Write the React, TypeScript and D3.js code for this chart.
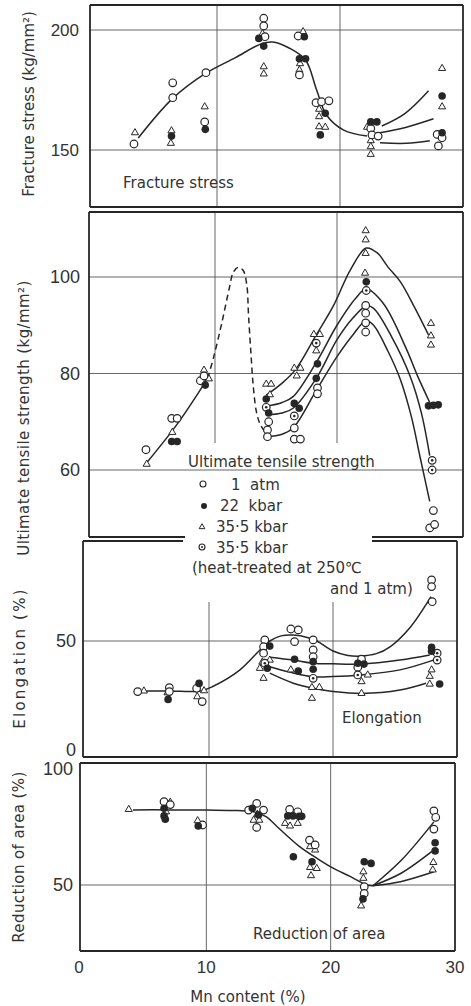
import React from "react";
import * as d3 from "d3";

// ---------- DATA (x = Mn content %, y = property value) ----------
const xTicks = [0, 10, 20, 30];
const fsTicks = [150, 200];
const utsTicks = [60, 80, 100];
const elTicks = [0, 50];
const raTicks = [50, 100];

// Fracture stress (kg/mm²)
const fsOpen = [[3.25,152.5],[6.4,178],[6.4,171.8],[9.1,182.2],[9.0,161.7],[13.8,204.9],[13.8,201.7],[13.9,197.2],[16.6,197.5],[16.7,181.3],[18.05,169.7],[18.5,170.1],[19.1,170.5],[22.5,159],[22.6,156.3],[23.1,155.8],[27.9,156.5],[28.3,155.1],[28.0,151.7]];
const fsFilled = [[6.3,155.8],[9.05,158.6],[13.4,196.5],[13.8,193.3],[17.1,197.2],[16.7,188],[17.2,188],[18.8,165.3],[18.4,156.3],[22.5,161.7],[23.0,161.7],[28.3,172.5],[28.3,157.2]];
const fsTri = [[3.33,157.2],[6.3,158],[6.25,152.8],[9.0,168],[13.7,198.5],[13.8,184.7],[13.8,181.7],[17.0,199.3],[16.75,186],[16.7,183.3],[18.3,167],[18.3,163.9],[18.3,159.7],[18.8,159.5],[22.2,159.5],[22.5,153.9],[22.5,151.4],[22.5,148.2],[28.3,184],[28.3,168]];
const fsCurveMain = [[3.6,155],[6.4,171.5],[9.1,182],[11.5,188.5],[13.5,194],[14.5,195],[15.9,192.4],[17.2,187.5],[18.1,175],[18.9,164.6],[20.3,158.3],[22.2,155.8]];
const fsCurveHigh = [[23.4,160],[25.3,165.3],[27.2,174.7]];
const fsCurveMid = [[23.25,157.2],[25.4,159.5],[27.6,163]];
const fsCurveLow = [[23.25,153],[25.4,152.8],[27.3,153.9]];

// Ultimate tensile strength (kg/mm²)
const utsOpen = [[4.34,64.2],[6.45,70.7],[6.9,70.7],[8.8,78.5],[9.1,79.5],[14.4,70],[14.3,68.3],[14.3,66.9],[16.5,68.7],[16.5,66.4],[17.0,66.4],[18.4,77],[18.4,75.8],[22.35,94.1],[22.35,92.5],[22.35,90.5],[22.35,88.6],[27.9,51.6],[27.6,48],[28.0,48.7]];
const utsFilled = [[6.45,65.9],[6.9,65.9],[9.2,77.6],[14.2,74.7],[14.4,71.8],[16.5,73.8],[16.9,72.8],[18.4,82],[18.3,79],[22.4,99],[27.5,73.3],[27.9,73.4],[28.3,73.5]];
const utsTri = [[4.4,61.2],[6.5,67.8],[9.1,80.7],[9.5,78.9],[14.2,77.8],[14.6,77.8],[14.5,75.6],[16.5,81.1],[17.0,81.1],[16.7,79.5],[18.1,88.1],[18.6,88.1],[18.3,84.7],[22.35,109.6],[22.35,107.7],[22.35,104.9],[22.3,100.8],[27.7,90.4],[27.7,87.8],[27.7,85.9]];
const utsDot = [[14.2,73],[16.5,71.2],[18.3,86.3],[22.4,97.2],[27.8,62],[27.8,60]];
const utsCurveLeft = [[4.4,61.5],[6.9,69.5],[9.4,79]];
const utsCurveDashed = [[9.4,79],[9.9,83.5],[10.55,90.4],[11.2,98],[11.5,101],[11.9,102],[12.3,101.4],[12.6,98.5],[12.75,92],[12.95,84],[13.15,77],[13.4,72],[13.7,69.5],[14.2,67.5]];
const utsCurveA = [[14.2,75.5],[15.5,78],[16.6,80.8],[18.3,88],[19.7,94],[21.1,101.5],[22.4,106],[23.3,105],[24.2,102],[25.2,99],[26.4,93.5],[27.5,88]];
const utsCurveB = [[14.2,73.2],[15.5,74],[16.4,75.2],[18.3,82.3],[20,90],[21.5,95.5],[22.4,97.5],[23.8,94.5],[25.7,85],[26.6,79.5],[27.6,74]];
const utsCurveC = [[14.2,71.4],[15.5,71.8],[16.4,72.8],[18.3,79],[20,87],[21.3,91.5],[22.4,94],[23,93.5],[24.5,87.5],[26,79.4],[26.9,72],[27.6,63]];
const utsCurveD = [[14.2,66.9],[15.5,67.4],[16.4,68.7],[18.3,76.5],[20,83.5],[21.3,88],[22.4,91],[23,90],[24.2,84.5],[25.2,78.7],[26.1,71],[26.8,62.8],[27.6,53.5]];

// Elongation (%)
const elOpen = [[4.25,27.2],[6.8,29],[6.8,27.2],[9.0,28.7],[9.45,22.7],[14.5,50.5],[14.4,47.4],[14.4,44.5],[16.6,55.4],[17.2,55],[16.9,49.7],[18.4,50.5],[18.4,46],[18.4,42.9],[22.3,41.8],[22.0,38.2],[27.95,77.5],[27.95,74.5],[28.0,67.7]];
const elFilled = [[6.7,23.7],[9.2,30.9],[14.9,47.7],[14.7,37.7],[16.9,41.8],[17.2,36.5],[18.4,40.7],[18.4,37.3],[22.0,40],[22.5,39.6],[27.95,47.2],[27.95,45.4],[28.6,30.6]];
const elTri = [[4.75,27.5],[6.65,26.7],[9.05,24.9],[9.6,27.6],[14.4,33.2],[14.1,37.7],[14.9,41.4],[14.3,40.5],[16.6,37],[18.3,29.1],[18.9,29.1],[18.3,24.2],[22.8,34.7],[22.3,31.7],[22.3,26.4],[27.95,37],[27.8,34.1],[27.8,30.6]];
const elDot = [[14.5,40],[18.4,33.2],[22.0,34.7],[28.4,44.5],[28.4,41.4]];
const elCurveMain = [[4.4,27.5],[6.8,27.5],[9.3,27.5],[10.3,29.5],[12.5,37],[14.2,46.5],[14.9,50],[15.8,52.3],[16.8,52.7],[18.0,51.5],[18.7,50],[20,45.5],[21.2,43.5],[22.2,43.2],[23.5,44.3],[24.6,47.4],[26.2,56],[27.9,70]];
const elCurve2 = [[14.9,42.7],[16.8,41.4],[18.4,40],[20,39.7],[22.2,39.6],[25.4,41.4],[27.8,43.7]];
const elCurve3 = [[14.9,38.4],[16.5,36],[18.4,33.9],[20,34],[22.2,34.7],[25.4,37],[28.1,41.4]];
const elCurve4 = [[14.9,35.5],[16.8,31],[18.4,28.7],[20,27.3],[22.3,26.4],[25.4,27.9],[27.5,31]];

// Reduction of area (%)
const raOpen = [[6.6,84.7],[7.1,83.5],[9.7,75],[13.4,81.2],[14.05,84],[14.05,74],[14.6,81.2],[16.7,81.5],[17.35,80.5],[18.3,68.7],[18.75,66.7],[22.7,49.3],[22.7,46.5],[28.3,80.9],[28.45,78.2],[28.3,73.3]];
const raFilled = [[6.6,78.8],[6.7,77.4],[6.6,82],[9.35,74.6],[13.7,82],[14.2,79.2],[16.55,78.8],[16.97,78.8],[17.46,78.6],[17.67,78.6],[17.0,61.8],[18.5,59.7],[22.7,59.7],[23.25,59],[22.6,44.2],[28.4,67.6],[28.4,64.2]];
const raTri = [[3.76,81.5],[7.1,84.5],[6.76,80.5],[9.3,76.8],[13.8,77],[14.26,77],[14.1,79.5],[16.33,75.7],[16.73,74.6],[17.35,75.7],[18.34,66],[18.75,64.6],[18.34,57.3],[18.88,56.9],[18.42,53.9],[22.63,55.5],[22.63,52.8],[22.45,41.3],[28.26,59.4],[28.21,56.3]];
const raCurveMain = [[4.1,81.3],[7,81.3],[10,81.2],[12.5,81],[13.8,80.5],[14.8,78.5],[15.7,74.3],[16.6,70],[17.5,66],[18.9,61.1],[20.2,57],[21.6,53.5],[22.9,50],[23.4,49.7]];
const raCurveHigh = [[23.4,49.7],[25.7,60.4],[28.3,76.3]];
const raCurveMid = [[23.4,49.7],[25.7,55],[28.3,64.6]];
const raCurveLow = [[23.4,49.7],[25.7,51.5],[28.3,55.5]];

// ---------- LAYOUT ----------
type P = [number, number][];
const INK = "#262626";
const FONT = "'DejaVu Sans', 'Liberation Sans', sans-serif";
const NUMFONT = "'Liberation Sans', Arial, sans-serif";

const panels = [
  { x0: 94, x30: 463, left: 90, right: 463, top: 5, bottom: 207, yDom: [150, 200], yRng: [150, 30], ticks: fsTicks, grid: [150, 200], gap: 11, fs: 17, tickY: {} as any },
  { x0: 93, x30: 459, left: 89, right: 463, top: 212, bottom: 537, yDom: [60, 100], yRng: [470, 277], ticks: utsTicks, grid: [60, 80, 100], gap: 9, fs: 18, tickY: {} as any },
  { x0: 85, x30: 457, left: 83, right: 457, top: 541, bottom: 757, yDom: [0, 50], yRng: [752, 641], ticks: elTicks, grid: [50], gap: 7, fs: 18, tickY: { 0: 750 } as any },
  { x0: 82, x30: 455, left: 80, right: 455, top: 763, bottom: 951, yDom: [50, 100], yRng: [885, 765], ticks: raTicks, grid: [50], gap: 7, fs: 18, tickY: { 100: 769 } as any },
];

const scalesFor = (p: any) => ({
  x: d3.scaleLinear().domain([0, 30]).range([p.x0, p.x30]),
  y: d3.scaleLinear().domain(p.yDom).range(p.yRng),
});

const tri = d3.symbol().type(d3.symbolTriangle).size(22)();
const triSmall = d3.symbol().type(d3.symbolTriangle).size(14)();

function Marks({ p, open, filled, tri: triPts, dot }: { p: any; open: P; filled: P; tri: P; dot?: P }) {
  const { x, y } = scalesFor(p);
  return (
    <g>
      {triPts.map((d, i) => (
        <path key={"t" + i} d={tri!} transform={`translate(${x(d[0])},${y(d[1])})`} fill="#fff" stroke={INK} strokeWidth={1} />
      ))}
      {open.map((d, i) => (
        <circle key={"o" + i} cx={x(d[0])} cy={y(d[1])} r={3.8} fill="#fff" stroke={INK} strokeWidth={1.2} />
      ))}
      {(dot || []).map((d, i) => (
        <g key={"d" + i}>
          <circle cx={x(d[0])} cy={y(d[1])} r={3.8} fill="#fff" stroke={INK} strokeWidth={1.2} />
          <circle cx={x(d[0])} cy={y(d[1])} r={1.3} fill={INK} />
        </g>
      ))}
      {filled.map((d, i) => (
        <circle key={"f" + i} cx={x(d[0])} cy={y(d[1])} r={3.8} fill={INK} />
      ))}
    </g>
  );
}

function Curves({ p, curves, dashed }: { p: any; curves: P[]; dashed?: P[] }) {
  const { x, y } = scalesFor(p);
  const line = d3
    .line<[number, number]>()
    .x((d) => x(d[0]))
    .y((d) => y(d[1]))
    .curve(d3.curveCatmullRom.alpha(0.5));
  return (
    <g fill="none" stroke={INK} strokeWidth={1.5}>
      {curves.map((c, i) => (
        <path key={i} d={line(c as any) || ""} />
      ))}
      {(dashed || []).map((c, i) => (
        <path key={"d" + i} d={line(c as any) || ""} strokeDasharray="6,4" />
      ))}
    </g>
  );
}

function Frame({ p, idx }: { p: any; idx: number }) {
  const { x, y } = scalesFor(p);
  const vTop = idx === 2 ? 602 : p.top;
  const vBot = idx === 1 ? 443 : p.bottom;
  const els: any[] = [];
  p.grid.forEach((g: number) => {
    els.push(<line key={"h" + g} x1={p.left} x2={p.right} y1={y(g)} y2={y(g)} stroke="#555" strokeWidth={0.9} />);
  });
  [10, 20].forEach((g) => {
    els.push(<line key={"v" + g} x1={x(g)} x2={x(g)} y1={vTop} y2={vBot} stroke="#555" strokeWidth={0.9} />);
  });
  const bw = 1.8;
  els.push(<line key="bl" x1={p.left} x2={p.left} y1={p.top} y2={p.bottom} stroke={INK} strokeWidth={bw} />);
  els.push(<line key="br" x1={p.right} x2={p.right} y1={p.top} y2={p.bottom} stroke={INK} strokeWidth={bw} />);
  if (idx === 2) {
    els.push(<line key="bt1" x1={p.left} x2={183} y1={p.top} y2={p.top} stroke={INK} strokeWidth={bw} />);
    els.push(<line key="bt2" x1={372} x2={p.right} y1={p.top} y2={p.top} stroke={INK} strokeWidth={bw} />);
  } else {
    els.push(<line key="bt" x1={p.left} x2={p.right} y1={p.top} y2={p.top} stroke={INK} strokeWidth={bw} />);
  }
  if (idx === 1) {
    els.push(<line key="bb1" x1={p.left} x2={185} y1={p.bottom} y2={p.bottom} stroke={INK} strokeWidth={bw} />);
    els.push(<line key="bb2" x1={372} x2={p.right} y1={p.bottom} y2={p.bottom} stroke={INK} strokeWidth={bw} />);
  } else {
    els.push(<line key="bb" x1={p.left} x2={p.right} y1={p.bottom} y2={p.bottom} stroke={INK} strokeWidth={bw} />);
  }
  p.ticks.forEach((t: number) => {
    const ty = p.tickY[t] !== undefined ? p.tickY[t] : y(t);
    els.push(
      <text key={"tl" + t} x={p.left - p.gap} y={ty} dy="0.36em" textAnchor="end" fontSize={p.fs} fill="#333" fontFamily={NUMFONT}>
        {t}
      </text>
    );
  });
  return <g>{els}</g>;
}

export default function App() {
  const [p1, p2, p3, p4] = panels;
  const xs4 = scalesFor(p4).x;
  const t = { fontFamily: FONT, fill: "#333" } as const;
  return (
    <svg width={471} height={1006} style={{ position: "absolute", left: 0, top: 0, background: "#fff" }}>
      {panels.map((p, i) => (
        <Frame key={i} p={p} idx={i} />
      ))}

      <Curves p={p1} curves={[fsCurveMain, fsCurveHigh, fsCurveMid, fsCurveLow] as P[]} />
      <Marks p={p1} open={fsOpen as P} filled={fsFilled as P} tri={fsTri as P} />

      <Curves p={p2} curves={[utsCurveLeft, utsCurveA, utsCurveB, utsCurveC, utsCurveD] as P[]} dashed={[utsCurveDashed] as P[]} />
      <Marks p={p2} open={utsOpen as P} filled={utsFilled as P} tri={utsTri as P} dot={utsDot as P} />

      <Curves p={p3} curves={[elCurveMain, elCurve2, elCurve3, elCurve4] as P[]} />
      <Marks p={p3} open={elOpen as P} filled={elFilled as P} tri={elTri as P} dot={elDot as P} />

      <Curves p={p4} curves={[raCurveMain, raCurveHigh, raCurveMid, raCurveLow] as P[]} />
      <Marks p={p4} open={raOpen as P} filled={raFilled as P} tri={raTri as P} />

      {/* panel labels */}
      <text x={123} y={188} fontSize={15} {...t}>Fracture stress</text>
      <text x={188} y={467} fontSize={15} {...t}>Ultimate tensile strength</text>
      <text x={342} y={723} fontSize={15} {...t}>Elongation</text>
      <text x={253} y={939} fontSize={15} {...t}>Reduction of area</text>

      {/* legend */}
      <circle cx={203} cy={484} r={3} fill="#fff" stroke={INK} strokeWidth={1.1} />
      <text x={231} y={490} fontSize={15} {...t} style={{ whiteSpace: "pre" }}>1  atm</text>
      <circle cx={204} cy={506} r={3} fill={INK} />
      <text x={220} y={511} fontSize={15} {...t} style={{ whiteSpace: "pre" }}>22  kbar</text>
      <path d={triSmall!} transform="translate(202,527)" fill="#fff" stroke={INK} strokeWidth={1} />
      <text x={216} y={532} fontSize={15} {...t}>35·5 kbar</text>
      <circle cx={202} cy={547} r={3} fill="#fff" stroke={INK} strokeWidth={1.1} />
      <circle cx={202} cy={547} r={1} fill={INK} />
      <text x={216} y={553} fontSize={15} {...t}>35·5 kbar</text>
      <text x={192} y={573} fontSize={15} {...t}>(heat-treated at 250℃</text>
      <text x={330} y={594} fontSize={15} {...t}>and 1 atm)</text>

      {/* y titles */}
      <text transform="translate(29,104) rotate(-90)" textAnchor="middle" dominantBaseline="central" fontSize={15} {...t}>Fracture stress (kg/mm²)</text>
      <text transform="translate(24,418) rotate(-90)" textAnchor="middle" dominantBaseline="central" fontSize={15} letterSpacing={0.4} {...t}>Ultimate tensile strength (kg/mm²)</text>
      <text transform="translate(20,658) rotate(-90)" textAnchor="middle" dominantBaseline="central" fontSize={15} letterSpacing={2.2} {...t}>Elongation (%)</text>
      <text transform="translate(19,857) rotate(-90)" textAnchor="middle" dominantBaseline="central" fontSize={15} letterSpacing={0.4} {...t}>Reduction of area (%)</text>

      {/* x axis */}
      {xTicks.map((v) => (
        <text key={v} x={xs4(v) - (v === 0 ? 3 : 0)} y={973} textAnchor="middle" fontSize={17} fontFamily={NUMFONT} fill="#333">{v}</text>
      ))}
      <text x={248} y={1002} textAnchor="middle" fontSize={15} {...t}>Mn content (%)</text>
    </svg>
  );
}
